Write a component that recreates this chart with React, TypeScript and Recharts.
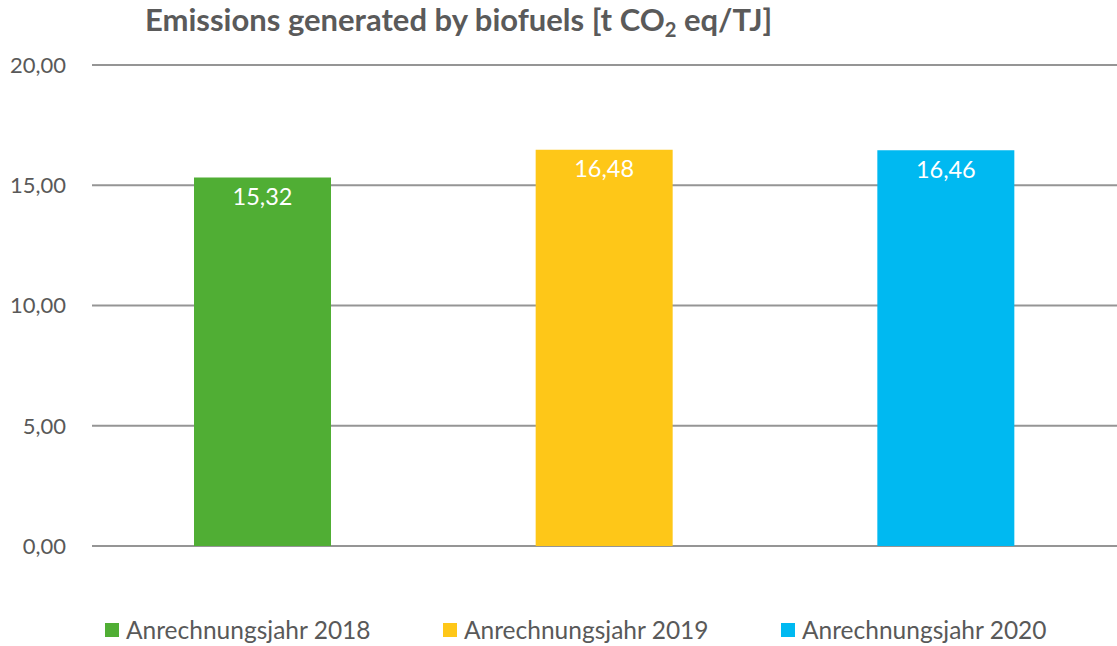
import { BarChart, Bar, XAxis, YAxis, CartesianGrid, Cell, LabelList, Legend } from 'recharts'

const categories = ['Anrechnungsjahr 2018', 'Anrechnungsjahr 2019', 'Anrechnungsjahr 2020']
const values = [15.32, 16.48, 16.46]
const colors = ['#50AE34', '#FEC718', '#00B9F1']
const yTicks = [0, 5, 10, 15, 20]

const data = categories.map((name, i) => ({ name, value: values[i] }))

const fmt = (v: number) => v.toFixed(2).replace('.', ',')

const font = 'Lato, "Open Sans", sans-serif'

function LegendContent() {
  return (
    <div style={{ display: 'flex', fontFamily: font, fontSize: 24.5, color: '#595959' }}>
      {categories.map((c, i) => (
        <div key={c} style={{ display: 'flex', alignItems: 'center', position: 'absolute', left: [105, 443, 781][i] }}>
          <span style={{ display: 'inline-block', width: 14, height: 14, background: colors[i], marginRight: 7 }} />
          <span>{c}</span>
        </div>
      ))}
    </div>
  )
}

export default function App() {
  return (
    <div style={{ position: 'absolute', left: 0, top: 0, width: 1117, height: 646, background: '#fff' }}>
      <div
        style={{
          position: 'absolute',
          left: 145,
          top: 0,
          fontFamily: font,
          fontWeight: 700,
          fontSize: 31,
          color: '#5a5a5a',
          whiteSpace: 'nowrap',
        }}
      >
        Emissions generated by biofuels [t CO<sub style={{ fontSize: '0.65em', verticalAlign: '-0.3em' }}>2</sub> eq/TJ]
      </div>
      <BarChart width={1117} height={646} data={data} margin={{ top: 65, right: 0, bottom: 100, left: 0 }}>
        <CartesianGrid horizontal vertical={false} stroke="#959595" strokeWidth={2} />
        <XAxis dataKey="name" hide />
        <YAxis
          width={92}
          domain={[0, 20]}
          ticks={yTicks}
          axisLine={false}
          tickLine={false}
          tickMargin={20}
          tickFormatter={fmt}
          tick={{ fill: '#595959', fontSize: 22, fontFamily: font }}
        />
        <Legend
          verticalAlign="bottom"
          content={<LegendContent />}
          wrapperStyle={{ position: 'absolute', left: 0, top: 615, width: 1117 }}
        />
        <Bar dataKey="value" barSize={137} isAnimationActive={false}>
          {data.map((d, i) => (
            <Cell key={d.name} fill={colors[i]} />
          ))}
          <LabelList
            dataKey="value"
            position="insideTop"
            offset={11}
            formatter={(v: number) => fmt(v)}
            fill="#ffffff"
            style={{ fontSize: 23.5, fontFamily: font }}
          />
        </Bar>
      </BarChart>
    </div>
  )
}
